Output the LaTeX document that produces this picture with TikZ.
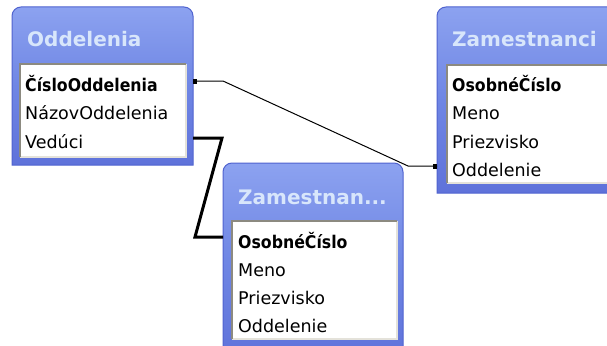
\documentclass[tikz,border=0pt]{standalone}
\usepackage{fontspec}
\setmainfont{DejaVu Sans}
\usetikzlibrary{calc}
\definecolor{wintop}{HTML}{8CA2F0}
\definecolor{winmid}{HTML}{6F86E4}
\definecolor{winbot}{HTML}{5F72DA}
\definecolor{winedge}{HTML}{5063CF}
\definecolor{titletext}{HTML}{D8E6FB}
\definecolor{sunkdark}{HTML}{8C8A80}
\definecolor{sunklight}{HTML}{E4E2DA}
\tikzset{
  fieldtext/.style={anchor=base west, inner sep=0pt, font=\fontsize{17.5}{17.5}\selectfont, text=black},
  keytext/.style={anchor=base west, inner sep=0pt, font=\fontsize{17.5}{17.5}\selectfont\bfseries, text=black},
  titlelabel/.style={anchor=base west, inner sep=0pt, font=\fontsize{20}{20}\selectfont\bfseries, text=titletext},
  relthin/.style={draw=black, line width=1pt},
  relthick/.style={draw=black, line width=3pt, line join=miter},
  endsq/.style={fill=black},
}
\newcommand{\tablewin}[4]{% x1,y1,x2,y2
  \shade[top color=wintop, bottom color=winbot, middle color=winmid]
    (#1,#4) {[rounded corners=9pt] -- (#1,#2) -- (#3,#2)} -- (#3,#4) -- cycle;
  \draw[winedge, line width=1pt]
    (#1,#4) {[rounded corners=9pt] -- (#1,#2) -- (#3,#2)} -- (#3,#4) -- cycle;
}
\newcommand{\listbox}[4]{% x1,y1,x2,y2
  \fill[white] (#1,#2) rectangle (#3,#4);
  \draw[sunklight, line width=2pt] (#1,#4) -- (#3,#4) -- (#3,#2);
  \draw[sunkdark, line width=2pt] (#1,#4) -- (#1,#2) -- (#3,#2);
}
\begin{document}
\begin{tikzpicture}[x=1pt,y=-1pt]
\useasboundingbox (0,0) rectangle (607,345);
\fill[white] (0,0) rectangle (607,345);

% Oddelenia window
\tablewin{12}{7}{193}{165}
\listbox{20}{64}{186}{157}
\node[titlelabel] (t1) at (27,47) {Oddelenia};
\node[keytext] (o1) at (25,91) {\scalebox{0.9}[1]{ČísloOddelenia}};
\node[fieldtext] (o2) at (25,119) {NázovOddelenia};
\node[fieldtext] (o3) at (25,148) {Vedúci};

% Zamestnanci window (right)
\tablewin{437}{7}{620}{193}
\listbox{447}{65}{620}{183}
\node[titlelabel] (t2) at (452,46) {Zamestnanci};
\node[keytext] (z1) at (452,91) {\scalebox{0.9}[1]{OsobnéČíslo}};
\node[fieldtext] (z2) at (452,119) {Meno};
\node[fieldtext] (z3) at (452,148) {Priezvisko};
\node[fieldtext] (z4) at (452,176) {Oddelenie};

% Zamestnan... window (middle)
\tablewin{223}{163}{403}{360}
\listbox{232}{221}{397}{339}
\node[titlelabel] (t3) at (238,204) {Zamestnan...};
\node[keytext] (m1) at (238,248) {\scalebox{0.9}[1]{OsobnéČíslo}};
\node[fieldtext] (m2) at (238,276) {Meno};
\node[fieldtext] (m3) at (238,304) {Priezvisko};
\node[fieldtext] (m4) at (238,332) {Oddelenie};

% connector endpoints
\coordinate (a1) at (193,81);
\coordinate (b1) at (437,166);
\coordinate (a2) at (193,138);
\coordinate (b2) at (223,237);

% thin relation
\draw[relthin] (a1) -- ++(30,0) -- ($(b1)+(-29,0)$) -- (b1);
\fill[endsq] ($(a1)+(0,-2.5)$) rectangle ++(4,5);
\fill[endsq] ($(b1)+(-4,-2.5)$) rectangle ++(4,5);

% thick relation
\draw[relthick] (a2) -- ++(29,0) -- ($(b2)+(-28,0)$) -- (b2);
\end{tikzpicture}
\end{document}
